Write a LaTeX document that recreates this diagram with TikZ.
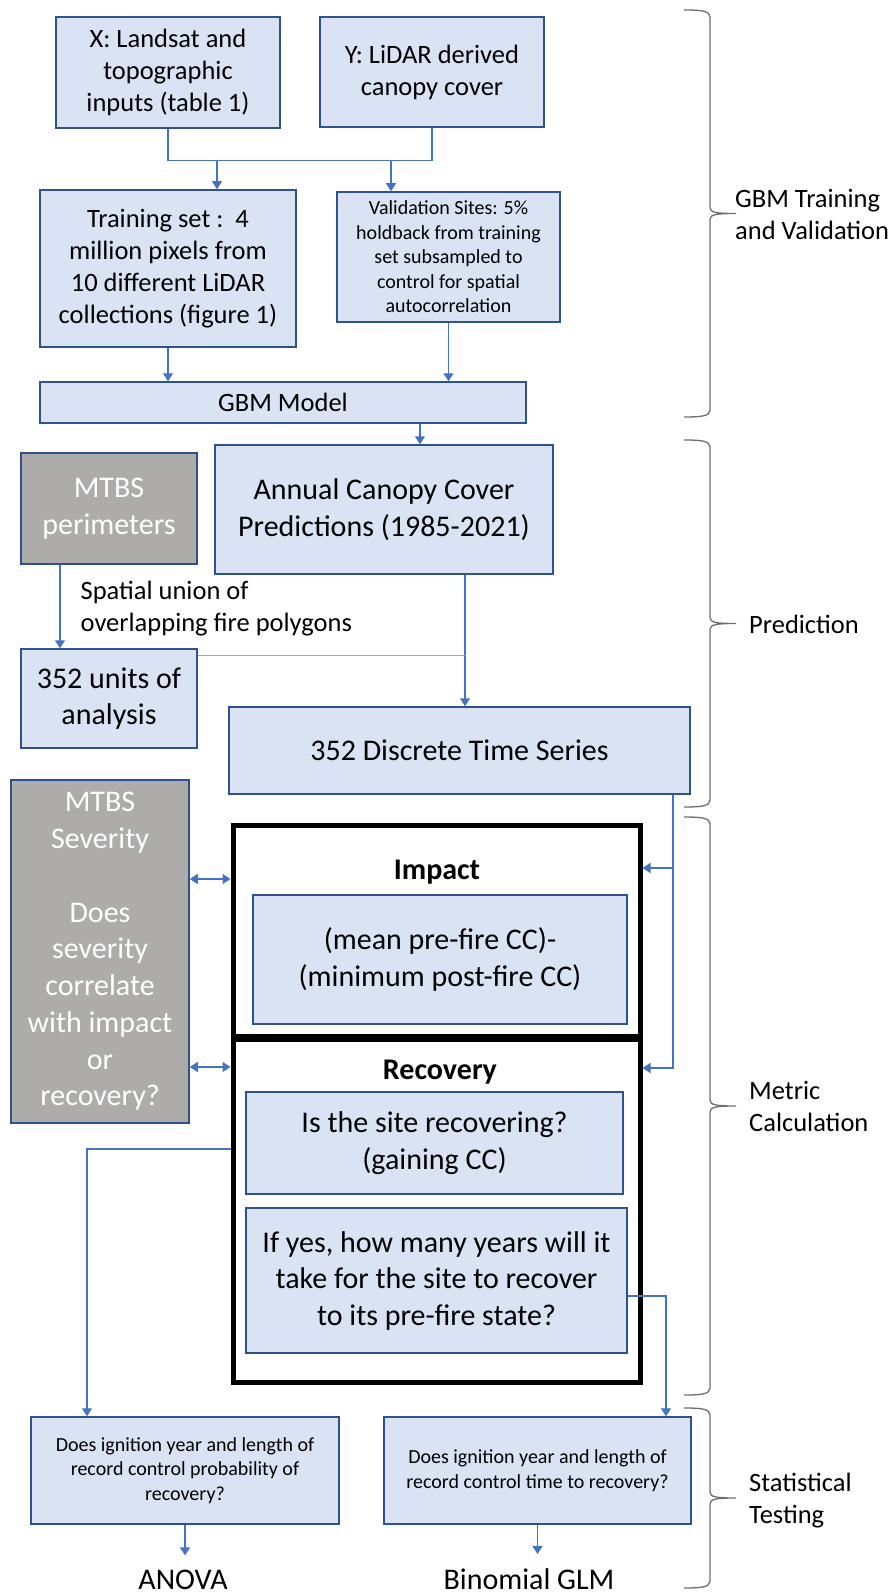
\documentclass[tikz,border=0pt]{standalone}
\usepackage{fontspec}
\setmainfont{Carlito}
\usepackage{xcolor}
\usepackage{tikz}
\usetikzlibrary{arrows.meta}

\definecolor{boxfill}{HTML}{DAE3F3}
\definecolor{boxline}{HTML}{2F528F}
\definecolor{greyfill}{HTML}{AEABAB}
\definecolor{linkblue}{HTML}{4472C4}
\definecolor{linkpale}{HTML}{8FAADC}
\definecolor{bracegrey}{HTML}{6E6E6E}

\newcommand{\bigtxt}{\fontsize{30}{36.5}\selectfont}
\newcommand{\medtxt}{\fontsize{26.5}{32}\selectfont}
\newcommand{\smalltxt}{\fontsize{20}{24.5}\selectfont}

% brace on the right: top, middle, bottom
\newcommand{\stagebrace}[3]{%
  \draw[draw=bracegrey, line width=1.3pt] (684,#1) .. controls (702,#1) and (710,#1+1) .. (710,#1+7)
    -- (710,#2-6) .. controls (710,#2-1) and (716,#2) .. (736,#2)
    .. controls (716,#2) and (710,#2+1) .. (710,#2+6)
    -- (710,#3-7) .. controls (710,#3-1) and (702,#3) .. (684,#3);}

\begin{document}
\begin{tikzpicture}[x=1pt, y=-1pt,
        box/.style={draw=boxline, fill=boxfill, line width=1.5pt, inner sep=0pt, align=center, font=\medtxt},
        greybox/.style={box, fill=greyfill, text=white, font=\bigtxt},
        frame/.style={draw=black, line width=5pt, inner sep=0pt},
        link/.style={draw=linkblue, line width=1.3pt},
        arrow/.style={link, -{Triangle[width=10pt,length=8pt]}},
        twoway/.style={link, {Triangle[width=10pt,length=8pt]}-{Triangle[width=10pt,length=8pt]}},
        sidelabel/.style={anchor=west, align=left, inner sep=0pt, font=\medtxt},
        endlabel/.style={anchor=base, inner sep=0pt, font=\bigtxt},
        ]
        \useasboundingbox (0,0) rectangle (892,1594);

        % GBM training and validation
        \node[box, minimum width=224, minimum height=111] (xin) at (168,72.5) {X: Landsat and\\topographic\\inputs (table 1)};
        \node[box, minimum width=224, minimum height=110] (yin) at (432,72) {Y: LiDAR derived\\canopy cover};
        \node[box, minimum width=256, minimum height=157] (train) at (168,268.5) {Training set :\ \ 4\\million pixels from\\10 different LiDAR\\collections (figure 1)};
        \node[box, font=\smalltxt, minimum width=223, minimum height=130] (valid) at (448.5,257) {Validation Sites: 5\%\\holdback from training\\set subsampled to\\control for spatial\\autocorrelation};
        \node[box, minimum width=486, minimum height=41] (gbm) at (283,402.5) {GBM Model};

        % prediction
        \node[box, font=\bigtxt, minimum width=338, minimum height=129] (annual) at (384,509.5) {Annual Canopy Cover\\Predictions (1985-2021)};
        \node[greybox, minimum width=176, minimum height=111] (perim) at (109,508.5) {MTBS\\perimeters};
        \node[box, font=\bigtxt, minimum width=176, minimum height=99] (units) at (109,698.5) {352 units of\\analysis};
        \node[box, font=\bigtxt, minimum width=461, minimum height=87] (series) at (459.5,750.5) {352 Discrete Time Series};

        % metric calculation
        \node[greybox, font=\fontsize{30}{36.75}\selectfont, minimum width=178, minimum height=343] (severity) at (100,951.5) {MTBS\\Severity\\[36.75pt]Does\\severity\\correlate\\with impact\\or\\recovery?};
        \node[frame, minimum width=407, minimum height=211] (impactbox) at (436.5,930.5) {};
        \node[frame, minimum width=407, minimum height=343.5] (recbox) at (436.5,1210.75) {};
        \node[font=\bigtxt] (impacttitle) at (437,872) {\textbf{Impact}};
        \node[font=\bigtxt] (rectitle) at (440,1072) {\textbf{Recovery}};
        \node[box, font=\bigtxt, minimum width=374, minimum height=129] (impactin) at (440,959.5) {(mean pre-fire CC)-\\(minimum post-fire CC)};
        \node[box, font=\bigtxt, minimum width=377, minimum height=102] (recin1) at (434.5,1143) {Is the site recovering?\\(gaining CC)};
        \node[box, font=\bigtxt, minimum width=381, minimum height=145] (recin2) at (436.5,1280.5) {If yes, how many years will it\\take for the site to recover\\to its pre-fire state?};

        % statistical testing
        \node[box, font=\smalltxt, minimum width=308, minimum height=107] (anovaq) at (185,1470.5) {Does ignition year and length of\\record control probability of\\recovery?};
        \node[box, font=\smalltxt, minimum width=307, minimum height=107] (glmq) at (537.5,1470.5) {Does ignition year and length of\\record control time to recovery?};
        \node[endlabel] (anova) at (183,1589) {ANOVA};
        \node[endlabel] (glm) at (529,1589) {Binomial GLM};

        % connectors
        \draw[link] (xin.south) -- ++(0,32) coordinate (merge) -| (yin.south);
        \coordinate (trainin) at ([xshift=49pt]train.north);
        \coordinate (validin) at ([xshift=-57.5pt]valid.north);
        \draw[arrow] (trainin |- merge) -- (trainin);
        \draw[arrow] (validin |- merge) -- (validin);
        \draw[arrow] (train) -- (train |- gbm.north);
        \draw[arrow] (valid) -- (valid |- gbm.north);
        \coordinate (gbmout) at ([xshift=137pt]gbm.south);
        \draw[arrow] (gbmout) -- (gbmout |- annual.north);

        \coordinate (perimout) at ([xshift=-49pt]perim.south);
        \draw[arrow] (perimout) -- (perimout |- units.north)
            node[midway, sidelabel, xshift=20pt, yshift=-2.5pt] (union) {Spatial union of\\overlapping fire polygons};
        \coordinate (annualout) at ([xshift=81pt]annual.south);
        \draw[arrow] (annualout) -- (annualout |- series.north);
        \coordinate (unitsout) at ([yshift=-7pt]units.north east);
        \draw[link, draw=linkpale] (unitsout) -- (unitsout -| annualout);

        \coordinate (seriesout) at ([xshift=213.5pt]series.south);
        \coordinate (impactright) at ([yshift=62.5pt]impactbox.east);
        \coordinate (recright) at ([yshift=142.75pt]recbox.east);
        \draw[arrow] (seriesout) |- (impactright);
        \draw[arrow] (seriesout) |- (recright);

        \coordinate (impactleft) at ([yshift=51.5pt]impactbox.west);
        \coordinate (recleft) at ([yshift=143.75pt]recbox.west);
        \draw[twoway] (severity.east |- impactleft) -- (impactleft);
        \draw[twoway] (severity.east |- recleft) -- (recleft);

        \coordinate (recout) at ([yshift=61.75pt]recbox.west);
        \coordinate (anovain) at ([xshift=-98pt]anovaq.north);
        \draw[arrow] (recout) -| (anovain);
        \coordinate (yearsout) at ([yshift=-15.5pt]recin2.east);
        \coordinate (glmin) at ([xshift=128.5pt]glmq.north);
        \draw[arrow] (yearsout) -| (glmin);

        \draw[arrow, shorten >=14pt] (anovaq) -- (anovaq.south |- anova.north);
        \draw[arrow, shorten >=14pt] (glmq) -- (glmq.south |- glm.north);

        % stages
        \stagebrace{10}{213.5}{417}
        \stagebrace{440}{623.5}{807}
        \stagebrace{817}{1106}{1395}
        \stagebrace{1408}{1498}{1588}
        \node[sidelabel] (gbmlabel) at (735,214) {GBM Training\\and Validation};
        \node[sidelabel] (predlabel) at (749,624) {Prediction};
        \node[sidelabel] (metriclabel) at (749,1106) {Metric\\Calculation};
        \node[sidelabel] (statlabel) at (749,1501) {Statistical\\Testing};
    \end{tikzpicture}
\end{document}
